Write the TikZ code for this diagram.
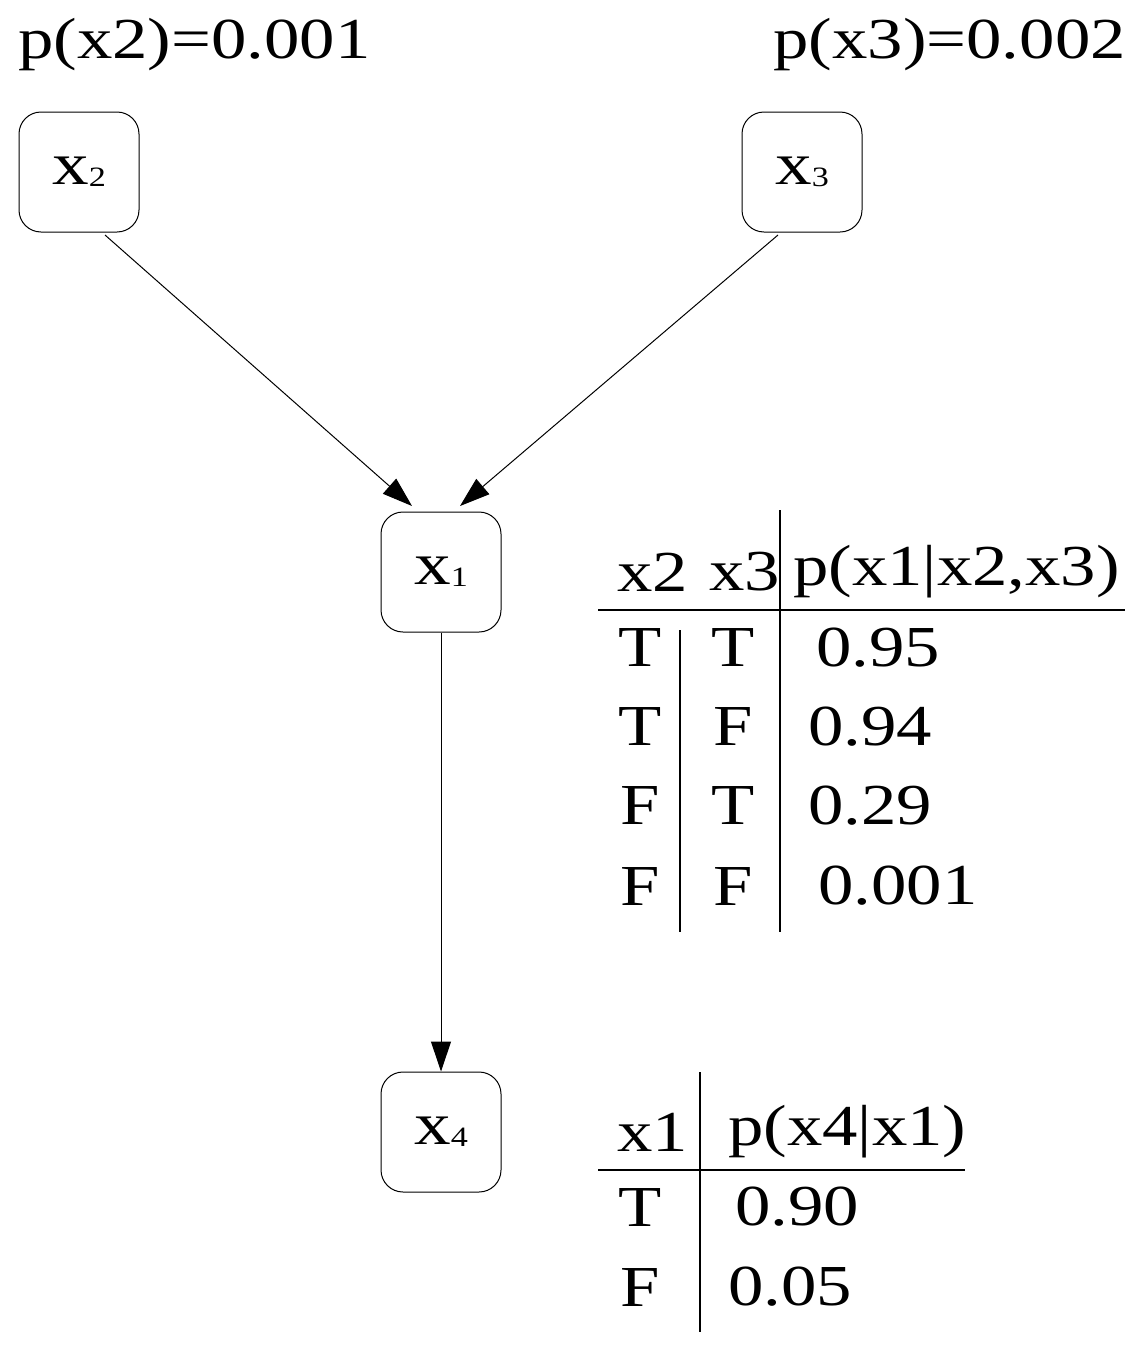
\documentclass[tikz,border=0pt]{standalone}
\usepackage{fontspec}
\usepackage{graphicx}
\setmainfont{Liberation Serif}
\usetikzlibrary{arrows.meta}
\newcommand{\Wd}[1]{\scalebox{1.22}[1]{#1}}
\newcommand{\Xn}[1]{\Wd{x\raisebox{-2pt}{\fontsize{28}{30}\selectfont #1}}}
\begin{document}
\begin{tikzpicture}[x=1pt,y=-1pt,
 bn/.style={draw,rounded corners=22pt,minimum width=120pt,minimum height=120pt,line width=1pt,font=\fontsize{60}{64}\selectfont},
 lab/.style={font=\fontsize{58}{62}\selectfont,inner sep=0pt},
 arr/.style={line width=1pt,-{Triangle[length=30pt,width=20pt]}},
 tl/.style={line width=1.5pt}]
\useasboundingbox (0,0) rectangle (1144,1352);
\node[bn] (x2) at (79,172) {\Xn{2}};
\node[bn] (x3) at (802,172) {\Xn{3}};
\node[bn] (x1) at (441,572) {\Xn{1}};
\node[bn] (x4) at (441,1132) {\Xn{4}};
\node[lab,anchor=west] (p2) at (18,45) {\Wd{p(x2)=0.001}};
\node[lab,anchor=east] (p3) at (1126,45) {\Wd{p(x3)=0.002}};
\coordinate (a2) at (105,235); \coordinate (b2) at (412,506);
\coordinate (a3) at (778,235); \coordinate (b3) at (460,506);
\draw[arr] (a2) -- (b2);
\draw[arr] (a3) -- (b3);
\draw[arr] (x1) -- (x4);
% table 1
\node[lab,anchor=west] (h1) at (617,572) {\Wd{x2}};
\node[lab,anchor=west] (h2) at (709,572) {\Wd{x3}};
\node[lab,anchor=west] (h3) at (793,572) {\Wd{p(x1|x2,x3)}};
\draw[tl] (598,610) -- (1125,610);
\draw[tl] (680,630) -- (680,932);
\draw[tl] (780,510) -- (780,932);
\foreach \a/\b/\c/\y/\dx in {T/T/0.95/648/878,T/F/0.94/727/870,F/T/0.29/806/870,F/F/0.001/886/898}{
 \node[lab] at (640,\y) {\Wd{\a}};
 \node[lab] at (733,\y) {\Wd{\b}};
 \node[lab] at (\dx,\y) {\Wd{\c}};}
% table 2
\node[lab,anchor=west] (k1) at (617,1132) {\Wd{x1}};
\node[lab,anchor=west] (k2) at (728,1132) {\Wd{p(x4|x1)}};
\draw[tl] (598,1170) -- (965,1170);
\draw[tl] (700,1072) -- (700,1332);
\node[lab] at (640,1207) {\Wd{T}};
\node[lab] at (797,1207) {\Wd{0.90}};
\node[lab] at (640,1287) {\Wd{F}};
\node[lab] at (790,1287) {\Wd{0.05}};
\end{tikzpicture}
\end{document}
